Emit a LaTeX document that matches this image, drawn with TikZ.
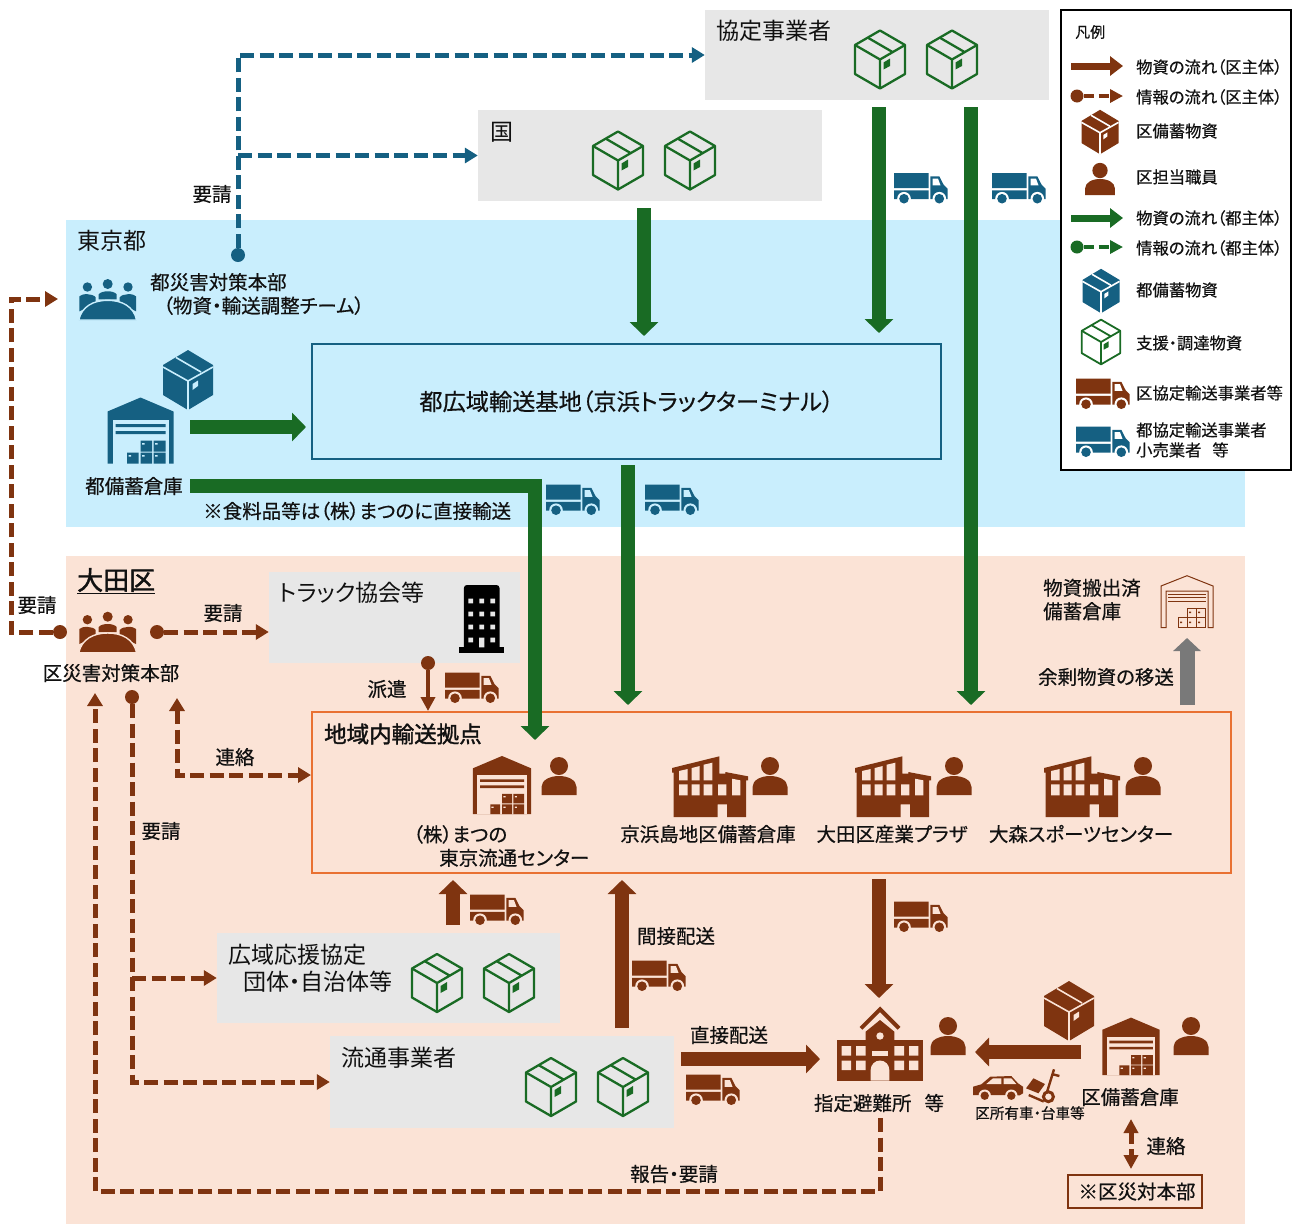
\documentclass[tikz,border=0pt]{standalone}
\usepackage{fontspec}
\setmainfont{Noto Sans CJK JP}[RawFeature={+palt}]
\newfontfamily\medf{Noto Sans CJK JP}[RawFeature={+palt},FakeBold=0.5]
\newfontfamily\thkf{Noto Sans CJK JP}[RawFeature={+palt},FakeBold=1.6]
\usetikzlibrary{arrows.meta}
\definecolor{kuC}{HTML}{7F3410}
\definecolor{toC}{HTML}{156082}
\definecolor{grC}{HTML}{196B24}
\definecolor{bgT}{HTML}{C9EEFD}
\definecolor{bgO}{HTML}{FBE3D6}
\definecolor{bgG}{HTML}{E7E7E7}
\definecolor{orC}{HTML}{E97132}
\definecolor{txC}{HTML}{111111}
\newcommand{\labf}{\medf\fontsize{19.5}{23.5}\selectfont}
\newcommand{\bigf}{\fontsize{23}{27}\selectfont}
\newcommand{\lgdf}{\medf\fontsize{16.3}{20}\selectfont}
\tikzset{
	pics/boxS/.style 2 args={code={
		\fill[#1] (0,-30)--(25,-15)--(25,15)--(0,30)--(-25,15)--(-25,-15)--cycle;
		\draw[#2,line width=1.6pt] (-25,-13)--(0,1)--(25,-13) (0,1)--(0,30) (-12,-22.5)--(13,-8);
		\fill[#2] (4.5,4)--(10,.5)--(10,6)--(4.5,10)--cycle;
	}},
	pics/boxO/.style={code={
		\draw[#1,line join=round] (0,-29)--(25,-14.5)--(25,14.5)--(0,29)--(-25,14.5)--(-25,-14.5)--cycle;
		\draw[#1] (-25,-14.5)--(0,0)--(25,-14.5) (0,0)--(0,29) (-12.5,-22)--(12.5,-7.5);
		\fill[#1] (3.5,3)--(10,-1)--(10,6.5)--(3.5,10)--cycle;
	}},
	pics/staff/.style={code={
		\fill[#1] (0,-10) circle (9);
		\fill[#1] (-17.5,19)--(-17.5,11) .. controls (-17.5,4) and (-9,0) .. (0,0) .. controls (9,0) and (17.5,4) .. (17.5,11)--(17.5,19)--cycle;
	}},
	pics/whouse/.style 2 args={code={
		\fill[#1] (0,-33)--(33,-19)--(33,33)--(-33,33)--(-33,-19)--cycle;
		\fill[#2] (-28,-11) rectangle (28,33);
		\fill[#1] (-25,-6.5) rectangle (25,-3.5) (-25,.5) rectangle (25,3.5);
		\fill[#1] (-13.3,22) rectangle (-2,33) (0,22) rectangle (11.5,33) (13,22) rectangle (25,33) (0,10) rectangle (11.5,21) (13,10) rectangle (25,21);
		\fill[#2] (-12,24.5) rectangle (-9.5,26) (1.5,24.5) rectangle (4,26) (14.5,24.5) rectangle (17,26) (1.5,12.5) rectangle (4,14) (14.5,12.5) rectangle (17,14);
	}},
	pics/whline/.style={code={
		\draw[#1,line width=1pt] (-26,26)--(-26,-15.7)--(0,-26)--(26,-15.7)--(26,26)--(21,26)--(21,-10.7)--(-21,-10.7)--(-21,26)--cycle;
		\draw[#1,line width=1pt] (-19,-7.5)--(19,-7.5) (-19,-4)--(19,-4) (-19,-.5)--(19,-.5);
		\draw[#1,line width=1pt] (-9,26) rectangle (0,16) (0,26) rectangle (9,16) (9,26) rectangle (18,16) (0,16) rectangle (9,6.5) (9,16) rectangle (18,6.5);
		\fill[#1] (-7,20) rectangle (-5,21.5) (2,20) rectangle (4,21.5) (11,20) rectangle (13,21.5) (2,10) rectangle (4,11.5) (11,10) rectangle (13,11.5);
	}},
	pics/truck/.style 2 args={code={
		\fill[#1] (-27,-15.5) rectangle (7.7,-.5) (-27,1.8) rectangle (7.7,10.5);
		\fill[#1] (9.3,-12.2)--(18.3,-12.2)--(22.6,-3.8)--(26.6,.2)--(26.6,10.5)--(9.3,10.5)--cycle;
		\fill[#2] (11.7,-9.8)--(17,-9.8)--(19.5,-3.2)--(11.7,-3.2)--cycle;
		\fill[#2] (-17,10.2) circle (6.8) (18.3,10.2) circle (6.8);
		\fill[#1] (-17,10.2) circle (4.8) (18.3,10.2) circle (4.8);
	}},
	pics/factory/.style 2 args={code={
		\fill[#1] (-38,-19)--(9.3,-30.7)--(9.3,-13.3)--(15.3,-13.3)--(15.3,-15)--(38,-10.7)--(38,-6.7)--(36,-6.7)--(36,30)--(17,30)--(17,17.3)--(7.7,17.3)--(7.7,30)--(-36.3,30)--(-36.3,-14.3)--(-38,-14.3)--cycle;
		\fill[#2] (-31,-16)--(-22.3,-18)--(-22.3,-6.7)--(-31,-6.7)--cycle (-18.3,-19)--(-10.3,-21)--(-10.3,-6.7)--(-18.3,-6.7)--cycle (-6.3,-22.3)--(2.3,-24.3)--(2.3,-6.7)--(-6.3,-6.7)--cycle;
		\fill[#2] (-31,-2.7) rectangle (-22.3,8.3) (-18.3,-2.7) rectangle (-10.3,8.3) (-6.3,-2.7) rectangle (2.3,8.3) (8,-2.7) rectangle (16.3,8.3);
		\fill[#2] (22,-8.3)--(30.3,-6.7)--(30.3,8.3)--(22,8.3)--cycle;
	}},
	pics/meeting/.style 2 args={code={
		\fill[#1] (-20.3,-12.3) circle (4.7) (0,-15.3) circle (5) (20.3,-12.3) circle (4.7);
		\fill[#1] (-28.3,12)--(-28.3,-3) .. controls (-26,-6) and (-15,-6) .. (-12,-2)--(-12,4)--cycle;
		\fill[#1] (28.3,12)--(28.3,-3) .. controls (26,-6) and (15,-6) .. (12,-2)--(12,4)--cycle;
		\fill[#1] (-9,0)--(-9,-5) .. controls (-6,-9) and (6,-9) .. (9,-5)--(9,0)--cycle;
		\fill[#1,draw=#2,line width=1.4pt] (-28.9,20.7) .. controls (-26,7) and (-14,1) .. (0,1) .. controls (14,1) and (26,7) .. (28.9,20.7)--cycle;
	}},
	pics/school/.style 2 args={code={
		\fill[#1] (-43.3,-3.3) rectangle (43.3,37.3);
		\fill[#1] (-14.3,-3.3)--(-14.3,-11.7)--(0,-23.3)--(14.3,-11.7)--(14.3,-3.3)--cycle;
		\draw[#1,line width=4pt] (-19,-15)--(0,-34)--(19,-15);
		\fill[#2] (0,-7.3) circle (3.7);
		\fill[#2] (-8.3,7.7) rectangle (8.3,12.3);
		\fill[#2] (-9.3,37.3)--(-9.3,26.5) arc[start angle=180,end angle=360,radius=9.3]--(9.3,37.3)--cycle;
		\fill[#2] (-38.3,2.7) rectangle (-29,12.3) (-24,2.7) rectangle (-14.3,12.3) (14.3,2.7) rectangle (24,12.3) (29,2.7) rectangle (38.3,12.3);
		\fill[#2] (-38.3,17.3) rectangle (-29,26.7) (-24,17.3) rectangle (-14.3,26.7) (14.3,17.3) rectangle (24,26.7) (29,17.3) rectangle (38.3,26.7);
	}},
	pics/tower/.style={code={
		\fill[black] (-17.8,30)--(-17.8,-31) arc[start angle=180,end angle=270,radius=3]--(14.8,-34) arc[start angle=270,end angle=360,radius=3]--(17.8,30)--cycle;
		\fill[black] (-22.5,28.3) rectangle (22.5,33.7);
		\fill[#1] (-13.3,-20.3) rectangle (-8.7,-15.7) (-2.3,-20.3) rectangle (2.3,-15.7) (8.7,-20.3) rectangle (13.3,-15.7);
		\fill[#1] (-13.3,-7.3) rectangle (-8.7,-2.7) (-2.3,-7.3) rectangle (2.3,-2.7) (8.7,-7.3) rectangle (13.3,-2.7);
		\fill[#1] (-13.3,5.7) rectangle (-8.7,10.3) (-2.3,5.7) rectangle (2.3,10.3) (8.7,5.7) rectangle (13.3,10.3);
		\fill[#1] (-13.3,18.7) rectangle (-8.7,23.3) (-2.6,18.7) rectangle (2.6,28.3) (8.7,18.7) rectangle (13.3,23.3);
	}},
	pics/car/.style 2 args={code={
		\fill[#1] (-25,9)--(-25,.7)--(-16.7,-1.7)--(-7.7,-9.3)--(13.3,-10)--(20,-2.7)--(25,.7)--(25,7.3)--(21.7,9.3)--cycle;
		\fill[#2] (-11.7,-2)--(-5,-7.7)--(3.3,-7.7)--(3.3,-2)--cycle (5.7,-7.7)--(13.3,-7.7)--(18.3,-2)--(5.7,-2)--cycle;
		\fill[#2] (-13.3,9.7) circle (6.2) (13.3,9.7) circle (6.2);
		\fill[#1] (-13.3,9.7) circle (4.2) (13.3,9.7) circle (4.2);
	}},
	pics/dolly/.style={code={
		\draw[#1,line width=2.4pt] (12.3,-15.7)--(5,8) (10,-11)--(17.7,-9) (-13,10)--(2,16.5);
		\draw[#1,line width=3pt] (6.7,11.7) circle (5);
		\fill[#1] (-15.7,3.3)--(-8.3,-6.7)--(3.3,-1)--(-3.3,8.3)--cycle;
	}},
}
\begin{document}
\begin{tikzpicture}[x=1pt,y=-1pt,line cap=butt]
	\tikzstyle{every node}=[inner sep=0pt,text=txC]
	\tikzstyle{lab}=[font=\labf]
	\tikzstyle{labW}=[font=\labf,anchor=west]
	\tikzstyle{bigW}=[font=\bigf,anchor=west]
	\tikzstyle{lgd}=[font=\lgdf,anchor=west]
	\tikzstyle{gbox}=[fill=bgG]
	\tikzstyle{dotK}=[circle,fill=kuC,minimum size=14pt]
	\tikzstyle{dotT}=[circle,fill=toC,minimum size=14pt]
	\tikzstyle{dotL}=[circle,minimum size=13pt]
	\tikzstyle{thick}=[line width=14pt,-{Triangle[length=14pt,width=28pt]}] % block arrows
	\tikzstyle{dashK}=[kuC,line width=5pt,dash pattern=on 14pt off 5.5pt,-{Triangle[length=13pt,width=15pt]}]
	\tikzstyle{dashT}=[toC,line width=5pt,dash pattern=on 14pt off 5.5pt,-{Triangle[length=13pt,width=15pt]}]
	\tikzstyle{lgdA}=[line width=7pt,-{Triangle[length=13pt,width=19pt]}]
	\tikzstyle{lgdD}=[line width=4.5pt,dash pattern=on 10pt off 5pt,-{Triangle[length=13pt,width=13pt]}]
	\useasboundingbox (0,0) rectangle (1295,1224);
	% regions and boxes
	\node(tokyo)[fill=bgT,minimum width=1179pt,minimum height=307pt] at (655.5,373.5){};
	\node(ota)[fill=bgO,minimum width=1179pt,minimum height=668pt] at (655.5,890){};
	\node(kyotei)[gbox,minimum width=344pt,minimum height=90pt] at (877,55){};
	\node(kuni)[gbox,minimum width=344pt,minimum height=91pt] at (650,155.5){};
	\node(truckA)[gbox,minimum width=251pt,minimum height=91pt] at (394.5,617.5){};
	\node(koiki)[gbox,minimum width=343pt,minimum height=90pt] at (388.5,978){};
	\node(ryutsu)[gbox,minimum width=344pt,minimum height=92pt] at (502,1082){};
	\node(kiti)[draw=toC,line width=2pt,font=\medf\fontsize{23.2}{27}\selectfont,minimum width=629pt,minimum height=115pt] at (626.5,401.5){\raisebox{-2pt}{都広域輸送基地（京浜トラックターミナル）}};
	\node(kyoten)[draw=orC,line width=2pt,minimum width=919pt,minimum height=161pt] at (771.5,792.5){};
	\node(honbu)[draw=kuC,line width=1.5pt,font=\labf,minimum width=134pt,minimum height=33pt] at (1135,1191.5){\hspace*{4pt}※区災対本部};
	% texts
	\node(t1)[bigW] at (716,31){協定事業者};
	\node(t2)[bigW] at (490,132){国};
	\node(t3)[bigW] at (77,241){東京都};
	\node(t4)[labW,align=left] at (150,294){都災害対策本部\\\hspace*{13pt}（物資・輸送調整チーム）};
	\node(t5)[lab] at (212,194){要請};
	\node(t6)[lab] at (134,486){都備蓄倉庫};
	\node(t7)[labW] at (203,511){※食料品等は（株）まつのに直接輸送};
	\node(t8)[anchor=west,font=\thkf\fontsize{26}{30}\selectfont] at (77,581){\underline{大田区}};
	\node(t9)[lab] at (37,605){要請};
	\node(t10)[lab] at (223,613){要請};
	\node(t11)[lab] at (111,673){区災害対策本部};
	\node(t12)[bigW] at (279,593){トラック協会等};
	\node(t13)[lab] at (387,689){派遣};
	\node(t14)[anchor=west,font=\thkf\fontsize{22.5}{26}\selectfont] at (324,734){地域内輸送拠点};
	\node(t15)[lab] at (235,757){連絡};
	\node(t16)[lab] at (161,831){要請};
	\node(t17)[labW,align=left] at (413,846){（株）まつの\\\hspace*{26pt}東京流通センター};
	\node(t18)[lab] at (708,834){京浜島地区備蓄倉庫};
	\node(t19)[lab] at (892,834){大田区産業プラザ};
	\node(t20)[lab] at (1081,834){大森スポーツセンター};
	\node(t21)[bigW,align=left] at (228,968.5){広域応援協定\\\hspace*{15pt}団体・自治体等};
	\node(t22)[bigW] at (341,1058){流通事業者};
	\node(t23)[lab] at (676,936){間接配送};
	\node(t24)[lab] at (729,1035){直接配送};
	\node(t25)[lab] at (879,1103){指定避難所 \ \ 等};
	\node(t26)[font=\medf\fontsize{14.6}{18}\selectfont] at (1030,1113){区所有車・台車等};
	\node(t27)[lab] at (1130,1097){区備蓄倉庫};
	\node(t28)[lab] at (1166,1146){連絡};
	\node(t29)[lab] at (674,1174){報告・要請};
	\node(t30)[lab] at (1106,677){余剰物資の移送};
	\node(t31)[labW,align=left] at (1043,599.5){物資搬出済\\備蓄倉庫};
	% free ends
	\coordinate(kuniS) at (644,208);
	\coordinate(kuniE) at (644,336);
	\coordinate(kyoA) at (879,107);
	\coordinate(kyoB) at (879,333);
	\coordinate(kyoC) at (971,107);
	\coordinate(kyoD) at (971,705);
	\coordinate(soA) at (190,427);
	\coordinate(soB) at (306,427);
	\coordinate(soC) at (190,486);
	\coordinate(soD) at (535,486);
	\coordinate(soE) at (535,740);
	\coordinate(kitiS) at (628,465);
	\coordinate(kitiE) at (628,705);
	\coordinate(hanA) at (1187,705);
	\coordinate(hanB) at (1187,638);
	\coordinate(kyoS) at (879,879);
	\coordinate(hinA) at (879,998);
	\coordinate(kanA) at (622,1028);
	\coordinate(kanB) at (622,880);
	\coordinate(matA) at (453,925);
	\coordinate(matB) at (453,880);
	\coordinate(tyoA) at (681,1059);
	\coordinate(tyoB) at (820,1059);
	\coordinate(kuA) at (1081,1052);
	\coordinate(kuB) at (975,1052);
	\coordinate(haB) at (428,711);
	\coordinate(reA) at (1131,1119);
	\coordinate(reB) at (1131,1169);
	\coordinate(toL) at (11,632);
	\coordinate(toU) at (11,299);
	\coordinate(toM) at (58,299);
	\coordinate(keA) at (177,698);
	\coordinate(keB) at (177,775);
	\coordinate(hoA) at (880,1118);
	\coordinate(hoB) at (880,1191);
	\coordinate(hoC) at (95,1191);
	\coordinate(hoD) at (95,693);
	% edge group green
	\draw[thick,grC](kuniS)to[](kuniE);
	\draw[thick,grC](kyoA)to[](kyoB);
	\draw[thick,grC](kyoC)to[](kyoD);
	\draw[thick,grC](soA)to[](soB);
	\draw[thick,grC](soC)--(soD)--(soE);
	\draw[thick,grC](kitiS)to[](kitiE);
	% edge group brown
	\draw[thick,kuC](kyoS)to[](hinA);
	\draw[thick,kuC](kanA)to[](kanB);
	\draw[thick,kuC](matA)to[](matB);
	\draw[thick,kuC](tyoA)to[](tyoB);
	\draw[thick,kuC](kuA)to[](kuB);
	\draw[thick,gray!95!black,line width=15pt,-{Triangle[length=13pt,width=27pt]}](hanA)to[](hanB);
	% edge group dashed blue
	\node(dotA)[dotT] at (238,255){};
	\draw[dashT](dotA)|-(kyotei.west);
	\draw[dashT](dotA|-kuni.west)--(kuni.west);
	% edge group dashed brown
	\node(dotB)[dotK] at (60,632){};
	\node(dotC)[dotK] at (157,632){};
	\node(dotD)[dotK] at (132,697){};
	\node(dotE)[dotK] at (428,663){};
	\draw[dashK](dotB)--(toL)--(toU)--(toM);
	\draw[dashK](dotC)--(dotC-|truckA.west);
	\draw[dashK](dotD)|-(ryutsu.west);
	\draw[dashK](dotD|-koiki.west)--(koiki.west);
	\draw[dashK,{Triangle[length=13pt,width=15pt]}-{Triangle[length=13pt,width=15pt]}](keA)--(keB)--(keB-|kyoten.west);
	\draw[dashK](hoA)--(hoB)--(hoC)--(hoD);
	\draw[kuC,line width=3.5pt,-{Triangle[length=14pt,width=14pt]}](dotE)to[](haB);
	\draw[kuC,line width=5pt,dash pattern=on 12pt off 5pt,{Triangle[length=14pt,width=14pt]}-{Triangle[length=14pt,width=14pt]}](reA)to[](reB);
	% icons blue
	\pic at (107.7,299.3) {meeting={toC}{bgT}};
	\pic at (188,380) {boxS={toC}{bgT}};
	\pic at (140.5,430.5) {whouse={toC}{bgT}};
	\pic at (921,188.5) {truck={toC}{white}};
	\pic at (1019,188.5) {truck={toC}{white}};
	\pic at (573,500) {truck={toC}{bgT}};
	\pic at (672,500) {truck={toC}{bgT}};
	% icons green
	\pic[line width=2.3pt] at (880,59.5) {boxO=grC};
	\pic[line width=2.3pt] at (952,59.5) {boxO=grC};
	\pic[line width=2.3pt] at (618,160.5) {boxO=grC};
	\pic[line width=2.3pt] at (690,160.5) {boxO=grC};
	\pic[line width=2.3pt] at (437,983) {boxO=grC};
	\pic[line width=2.3pt] at (509,983) {boxO=grC};
	\pic[line width=2.3pt] at (551,1087) {boxO=grC};
	\pic[line width=2.3pt] at (623,1087) {boxO=grC};
	% icons brown
	\pic at (107.7,632) {meeting={kuC}{bgO}};
	\pic at (481.7,619) {tower=bgG};
	\pic at (1187,601.7) {whline=kuC};
	\pic at (472,688) {truck={kuC}{bgO}};
	\pic at (497,910) {truck={kuC}{bgO}};
	\pic at (921,917) {truck={kuC}{bgO}};
	\pic at (659,976) {truck={kuC}{bgO}};
	\pic at (713,1090) {truck={kuC}{bgO}};
	\pic[scale=.88] at (502,785) {whouse={kuC}{bgO}};
	\pic at (710,787) {factory={kuC}{bgO}};
	\pic at (893,787) {factory={kuC}{bgO}};
	\pic at (1082,787) {factory={kuC}{bgO}};
	\pic at (559,776) {staff=kuC};
	\pic at (770,776) {staff=kuC};
	\pic at (954,776) {staff=kuC};
	\pic at (1143,776) {staff=kuC};
	\pic at (880,1043.3) {school={kuC}{bgO}};
	\pic at (948,1036) {staff=kuC};
	\pic at (1069,1011) {boxS={kuC}{bgO}};
	\pic[scale=.87] at (1131,1046.3) {whouse={kuC}{bgO}};
	\pic at (1191,1036) {staff=kuC};
	\pic at (998,1086) {car={kuC}{bgO}};
	\pic at (1041.7,1085) {dolly=kuC};
	% legend
	\node(lgd)[fill=white,draw=black,line width=1.5pt,minimum width=230pt,minimum height=460pt] at (1176,240){};
	\node(l0)[font=\medf\fontsize{15}{18}\selectfont,anchor=west] at (1075,32){凡例};
	\node(l1)[lgd] at (1136,67){物資の流れ（区主体）};
	\node(l2)[lgd] at (1136,97){情報の流れ（区主体）};
	\node(l3)[lgd] at (1136,131){区備蓄物資};
	\node(l4)[lgd] at (1136,177){区担当職員};
	\node(l5)[lgd] at (1136,218){物資の流れ（都主体）};
	\node(l6)[lgd] at (1136,248){情報の流れ（都主体）};
	\node(l7)[lgd] at (1136,290){都備蓄物資};
	\node(l8)[lgd] at (1136,343){支援・調達物資};
	\node(l9)[lgd] at (1136,393){区協定輸送事業者等};
	\node(l10)[lgd,align=left] at (1136,440){都協定輸送事業者\\小売業者 \ \ 等};
	\coordinate(a1) at (1071,66);
	\coordinate(a2) at (1123,66);
	\node(a3)[dotL,fill=kuC] at (1077,96){};
	\coordinate(a4) at (1123,96);
	\coordinate(a5) at (1071,218);
	\coordinate(a6) at (1123,218);
	\node(a7)[dotL,fill=grC] at (1077,247){};
	\coordinate(a8) at (1123,247);
	\draw[lgdA,kuC](a1)to[](a2);
	\draw[lgdD,kuC](a3)to[](a4);
	\draw[lgdA,grC](a5)to[](a6);
	\draw[lgdD,grC](a7)to[](a8);
	\pic[scale=.74] at (1100,132) {boxS={kuC}{white}};
	\pic[scale=.85] at (1100,179) {staff=kuC};
	\pic[scale=.74] at (1101,291) {boxS={toC}{white}};
	\pic[scale=.77,line width=1.8pt] at (1101,342) {boxO=grC};
	\pic at (1103,394) {truck={kuC}{white}};
	\pic at (1103,442) {truck={toC}{white}};
\end{tikzpicture}
\end{document}
